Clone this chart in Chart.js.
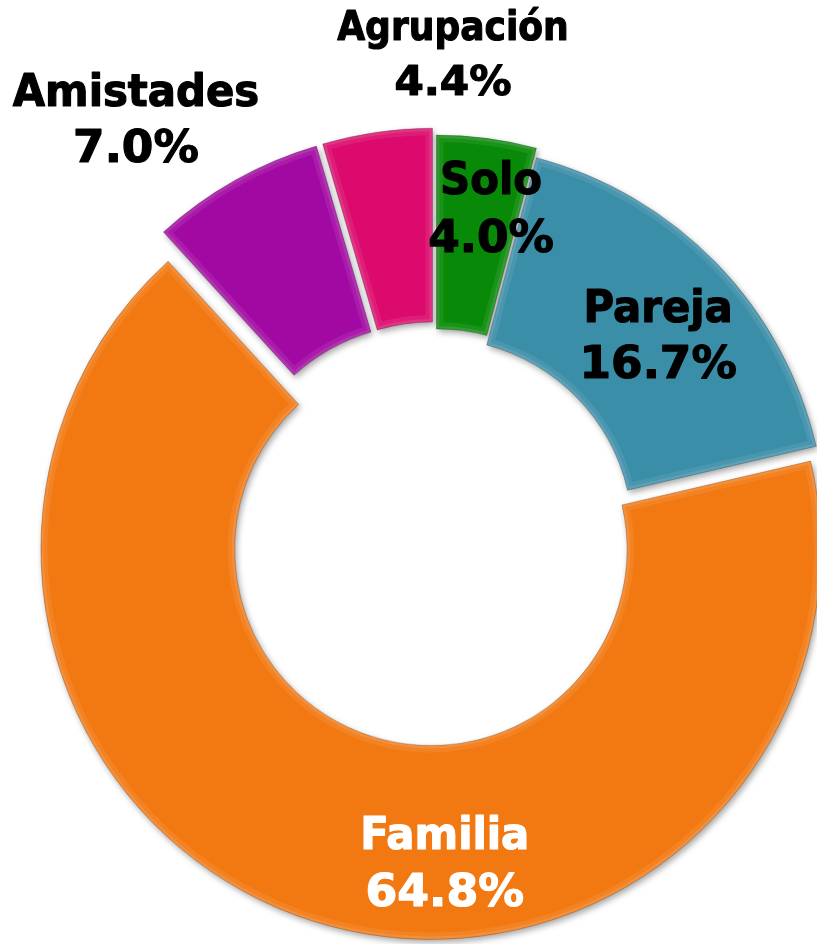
<!DOCTYPE html>
<html>
<head>
<meta charset="utf-8">
<title>Doughnut</title>
<script src="https://cdn.jsdelivr.net/npm/chart.js@4.4.1/dist/chart.umd.min.js"></script>
<style>
  html, body { margin: 0; padding: 0; background: #ffffff; overflow: hidden; }
  #donut { display: block; }
</style>
</head>
<body>
<canvas id="donut" width="817" height="944"></canvas>
<script>
// data
const categories = ['Solo', 'Pareja', 'Familia', 'Amistades', 'Agrupación'];
const shares = [4.0, 16.7, 64.8, 7.0, 4.4];

// look
const sliceColors = ['#088a08', '#3a8ea8', '#f27811', '#a208a2', '#db0a6c'];
const explode = [11, 2, 14, 18, 18];
const labelColors = ['#000', '#000', '#fff', '#000', '#000'];
// label block placement: [angle from top (deg, clockwise), distance from centre, font px, line gap, name squeeze, pct squeeze]
const labelPlace = [
  [9.8, 329, 44, 58, 0.95, 1.03],
  [48.5, 298, 44, 56, 0.95, 1.03],
  [178.3, 330, 44, 57, 0.95, 1.04],
  [324.1, 510, 44, 56, 0.95, 1.03],
  [2.15, 479, 41, 55, 0.88, 1.03]
];

function slicePath(ctx, a) {
  ctx.beginPath();
  ctx.arc(a.x, a.y, a.outerRadius, a.startAngle, a.endAngle);
  ctx.arc(a.x, a.y, a.innerRadius, a.endAngle, a.startAngle, true);
  ctx.closePath();
}

const explodePlugin = {
  id: 'explode',
  beforeDatasetDraw(chart, args) {
    const ctx = chart.ctx;
    args.meta.data.forEach(function(arc, i) {
      const mid = (arc.startAngle + arc.endAngle) / 2;
      const d = explode[i];
      ctx.save();
      ctx.translate(Math.cos(mid) * d, Math.sin(mid) * d);

      // body with soft drop shadow
      ctx.save();
      ctx.shadowColor = 'rgba(0,0,0,0.35)';
      ctx.shadowBlur = 6;
      ctx.shadowOffsetX = 2;
      ctx.shadowOffsetY = 3;
      arc.draw(ctx);
      ctx.restore();

      // bevel: soft light inner rim
      ctx.save();
      slicePath(ctx, arc);
      ctx.clip();
      ctx.lineJoin = 'round';
      ctx.strokeStyle = 'rgba(255,255,255,0.08)';
      ctx.lineWidth = 14;
      ctx.stroke();
      ctx.strokeStyle = 'rgba(255,255,255,0.10)';
      ctx.lineWidth = 6;
      ctx.stroke();
      ctx.restore();

      // dark edge
      slicePath(ctx, arc);
      ctx.strokeStyle = 'rgba(0,0,0,0.2)';
      ctx.lineWidth = 1;
      ctx.stroke();
      ctx.restore();
    });
    return false;
  }
};

function boldText(ctx, txt, y, sx) {
  ctx.save();
  ctx.scale(sx, 1);
  ctx.fillText(txt, 0, y);
  ctx.strokeText(txt, 0, y);
  ctx.restore();
}

const labelPlugin = {
  id: 'sliceLabels',
  afterDraw(chart) {
    const ctx = chart.ctx;
    const meta = chart.getDatasetMeta(0);
    const cx = meta.data[0].x;
    const cy = meta.data[0].y;
    categories.forEach(function(name, i) {
      const p = labelPlace[i];
      const ang = p[0] * Math.PI / 180;
      const x = cx + Math.sin(ang) * p[1];
      const y = cy - Math.cos(ang) * p[1];
      ctx.save();
      ctx.translate(x, y);
      ctx.textAlign = 'center';
      ctx.textBaseline = 'middle';
      ctx.font = 'bold ' + p[2] + 'px "DejaVu Sans", Verdana, sans-serif';
      ctx.fillStyle = labelColors[i];
      ctx.strokeStyle = labelColors[i];
      ctx.lineWidth = 1.2;
      ctx.lineJoin = 'round';
      boldText(ctx, name, -p[3] / 2, p[4]);
      boldText(ctx, shares[i].toFixed(1) + '%', p[3] / 2, p[5]);
      ctx.restore();
    });
  }
};

const ctx1 = document.getElementById('donut');
new Chart(ctx1, {
  type: 'doughnut',
  data: {
    labels: categories,
    datasets: [{
      data: shares,
      backgroundColor: sliceColors,
      borderWidth: 0,
      offset: 0,
      hoverOffset: 0,
      clip: false
    }]
  },
  options: {
    responsive: false,
    animation: false,
    events: [],
    radius: 390,
    cutout: '50.3%',
    rotation: 0,
    layout: {
      padding: { left: 53, top: 128, right: 0, bottom: 0 }
    },
    plugins: {
      legend: { display: false },
      tooltip: { enabled: false }
    }
  },
  plugins: [explodePlugin, labelPlugin]
});
</script>
</body>
</html>
